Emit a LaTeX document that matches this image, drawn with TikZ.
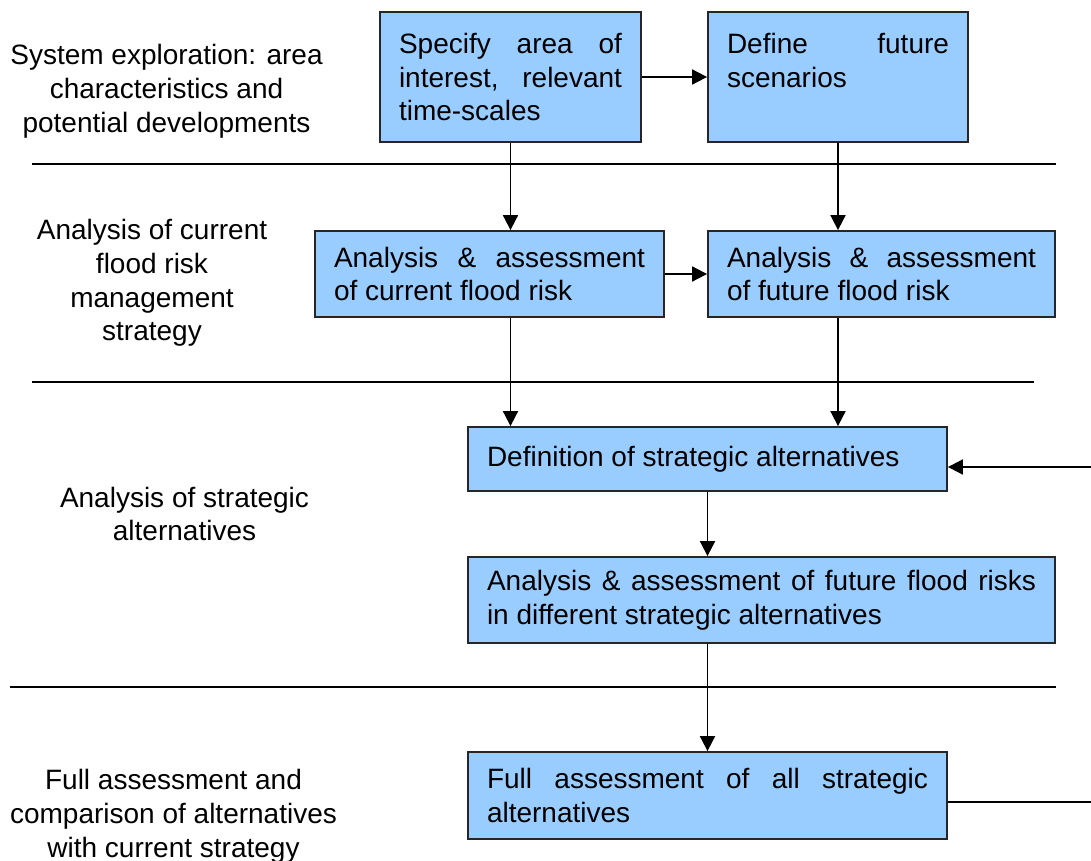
\documentclass[tikz,border=0pt]{standalone}
\usepackage{fontspec}
\newfontfamily\arialf{Liberation Sans}
\usetikzlibrary{arrows.meta}
\definecolor{boxblue}{HTML}{99CCFF}
\newcommand\dfont{\arialf\fontsize{28}{33.8}\selectfont\hyphenpenalty=10000\exhyphenpenalty=10000}
\tikzset{
  box/.style={draw=black!85, fill=boxblue, line width=1.8pt, inner xsep=19pt, inner ysep=0pt, align=justify, font=\dfont},
  lbl/.style={align=center, font=\dfont, inner sep=0pt},
  conn/.style={line width=1.8pt, -{Triangle[length=15pt,width=15pt]}},
  rule/.style={line width=1.8pt},
}
\begin{document}
\begin{tikzpicture}[x=1pt,y=-1pt]
\useasboundingbox (0,0) rectangle (1091,861);
% boxes
\node[box, text width=223pt, minimum height=130pt] (b1) at (510.5,77) {Specify area of interest, relevant time-scales};
\node[box, text width=222pt, minimum height=130pt] (b2) at (838,77) {Define future scenarios\par\mbox{}};
\node[box, text width=311pt, minimum height=86pt] (b3) at (489.5,274) {Analysis \& assessment of current flood risk};
\node[box, text width=309pt, minimum height=86pt] (b4) at (881.5,274) {Analysis \& assessment of future flood risk};
\node[box, text width=441pt, minimum height=64pt] (b5) at (707.5,459) {Definition of strategic alternatives};
\node[box, text width=549pt, minimum height=86pt] (b6) at (761.5,600) {Analysis \& assessment of future flood risks\linebreak in different strategic alternatives};
\node[box, text width=441pt, minimum height=87pt] (b7) at (707.5,795.5) {Full assessment of all strategic alternatives};
% left labels
\node[lbl] (l1) at (166.5,91) {System exploration: area\\characteristics and\\potential developments};
\node[lbl] (l2) at (152,283) {Analysis of current\\flood risk\\management\\strategy};
\node[lbl] (l3) at (184.5,514) {Analysis of strategic\\alternatives};
\node[lbl] (l4) at (173.5,816) {Full assessment and\\comparison of alternatives\\with current strategy};
% rules
\coordinate (r1a) at (32,164); \coordinate (r1b) at (1056,164);
\coordinate (r2a) at (32,382); \coordinate (r2b) at (1034,382);
\coordinate (r3a) at (10,687); \coordinate (r3b) at (1056,687);
\draw[rule] (r1a) -- (r1b);
\draw[rule] (r2a) -- (r2b);
\draw[rule] (r3a) -- (r3b);
% connectors
\draw[conn] (b1.east) -- (b2.west);
\draw[conn] (b3.east) -- (b4.west);
\draw[conn] (b1.south) -- (b1.south |- b3.north);
\draw[conn] (b2.south) -- (b2.south |- b4.north);
\draw[conn] (b3.south -| b1.south) -- (b5.north -| b1.south);
\draw[conn] (b4.south -| b2.south) -- (b5.north -| b2.south);
\draw[conn] (b5.south) -- (b5.south |- b6.north);
\draw[conn] (b6.south -| b5.south) -- (b7.north -| b5.south);
% feedback
\coordinate (fbout) at (1091,802);
\coordinate (fbin) at (1091,467);
\draw[rule] (b7.east |- fbout) -- (fbout);
\draw[conn] (fbin) -- (b5.east |- fbin);
\end{tikzpicture}
\end{document}
